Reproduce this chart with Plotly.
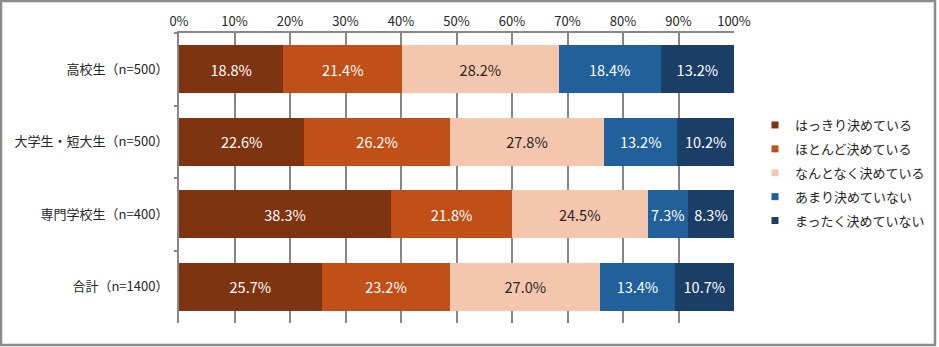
import plotly.graph_objects as go

categories = ["高校生（n=500）", "大学生・短大生（n=500）", "専門学校生（n=400）", "合計（n=1400）"]
series_names = ["はっきり決めている", "ほとんど決めている", "なんとなく決めている", "あまり決めていない", "まったく決めていない"]
s1 = [18.8, 22.6, 38.3, 25.7]
s2 = [21.4, 26.2, 21.8, 23.2]
s3 = [28.2, 27.8, 24.5, 27.0]
s4 = [18.4, 13.2, 7.3, 13.4]
s5 = [13.2, 10.2, 8.3, 10.7]
series_values = [s1, s2, s3, s4, s5]
colors = ["#7F3411", "#C05017", "#F5C6AE", "#22609C", "#1A3E66"]
text_colors = ["white", "white", "#262626", "white", "white"]
tick_vals = [0, 10, 20, 30, 40, 50, 60, 70, 80, 90, 100]
tick_text = ["0%", "10%", "20%", "30%", "40%", "50%", "60%", "70%", "80%", "90%", "100%"]

FONT = "Noto Sans CJK JP"
W, H = 939, 347
ML, MR, MT, MB = 179, 205, 33, 24
PW, PH = W - ML - MR, H - MT - MB

fig = go.Figure()
for name, vals, c, tc in zip(series_names, series_values, colors, text_colors):
    fig.add_trace(go.Bar(
        y=categories, x=vals, orientation="h", name=name,
        marker=dict(color=c, line=dict(width=0)),
        text=[f"{v:.1f}%" for v in vals], texttemplate="%{text}",
        textposition="inside", insidetextanchor="middle", textangle=0,
        textfont=dict(color=tc, size=14.5, family=FONT),
        constraintext="none", showlegend=False, hoverinfo="skip",
    ))
for i, (name, c) in enumerate(zip(series_names, colors)):
    fig.add_trace(go.Scatter(
        x=[None], y=[None], mode="markers", name=name,
        marker=dict(symbol="square", size=7, color=c),
        legendgroup=f"g{i}", showlegend=True,
    ))

fig.update_layout(
    width=W, height=H,
    margin=dict(l=ML, r=MR, t=MT, b=MB, autoexpand=False),
    barmode="stack", barnorm="percent", bargap=0.34,
    plot_bgcolor="white", paper_bgcolor="white",
    font=dict(family=FONT, size=13, color="#262626"),
    legend=dict(
        x=(755 - ML) / PW, y=0.5 + 5 / PH, xanchor="left", yanchor="middle",
        font=dict(size=13, color="#262626", family=FONT),
        itemwidth=30, tracegroupgap=4, traceorder="grouped",
        bgcolor="rgba(0,0,0,0)",
    ),
    uniformtext=dict(mode=False),
    shapes=[dict(
        type="rect", xref="paper", yref="paper",
        x0=(1 - ML) / PW, x1=(935 - ML) / PW,
        y0=-(345 - (H - MB)) / PH, y1=1 + (MT - 1) / PH,
        line=dict(color="#8C8C8C", width=2.5), fillcolor="rgba(0,0,0,0)", layer="below",
    )],
)
fig.update_xaxes(
    side="top", range=[0, 100], tickvals=tick_vals, ticktext=tick_text,
    showgrid=True, gridcolor="#878787", gridwidth=2,
    showline=True, linecolor="#878787", linewidth=2,
    ticks="", zeroline=False,
    tickfont=dict(size=13, color="#262626", family=FONT),
    fixedrange=True,
)
fig.update_yaxes(
    autorange="reversed", type="category",
    showline=True, linecolor="#878787", linewidth=2,
    ticks="outside", ticklen=3, tickcolor="#878787", tickwidth=2,
    tickson="boundaries", showgrid=False,
    tickfont=dict(size=13, color="#262626", family=FONT),
    ticklabelstandoff=6,
    fixedrange=True,
)
fig.write_html("out.html")
